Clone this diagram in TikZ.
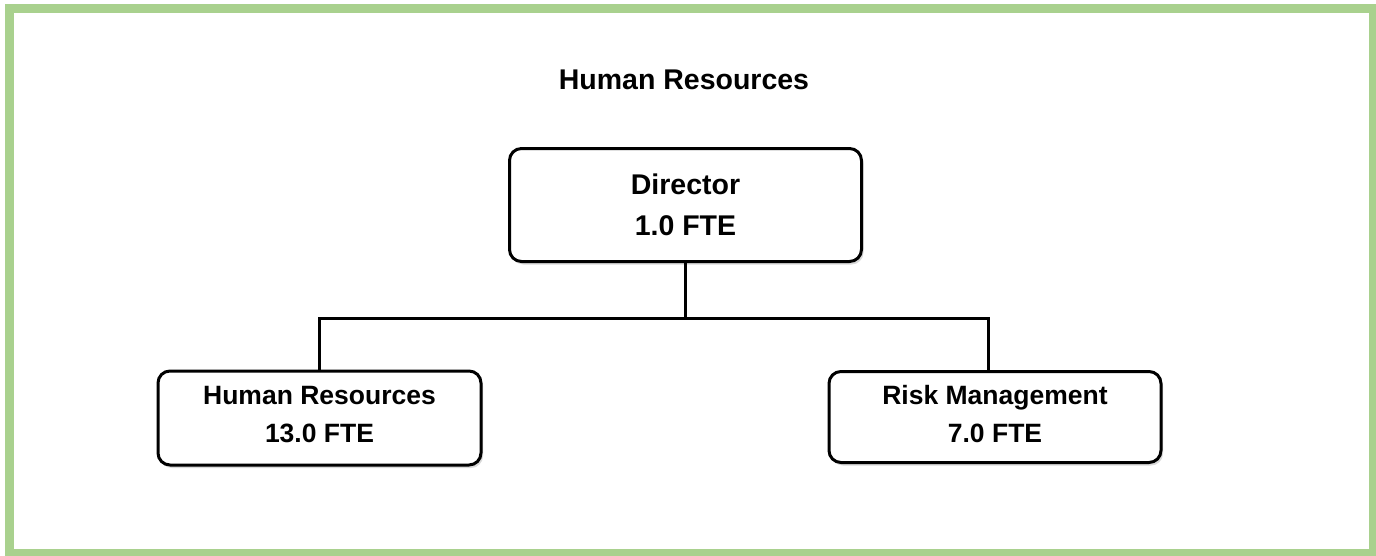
\documentclass[tikz,border=0pt]{standalone}
\usepackage{fontspec}
\setmainfont{Liberation Sans}
\usetikzlibrary{shadows}
\definecolor{framegreen}{HTML}{A9D18E}
\begin{document}
\begin{tikzpicture}[x=1pt,y=-1pt,
  orgbox/.style={draw=black, line width=3pt, rounded corners=12pt, fill=white,
    align=center, inner sep=0pt,
    drop shadow={opacity=0.3, shadow xshift=2pt, shadow yshift=-3pt, fill=gray}},
  conn/.style={draw=black, line width=3pt}]
\useasboundingbox (0,0) rectangle (1376,555);
\draw[framegreen, line width=9pt] (9.5,8.5) rectangle (1373,553);
\node[font=\fontsize{28.5}{34}\selectfont\bfseries] (title) at (684,80) {Human Resources};
\node[orgbox, minimum width=352pt, minimum height=113pt,
  font=\fontsize{28.5}{41}\selectfont\bfseries] (dir) at (685.5,205) {Director\\1.0 FTE};
\node[orgbox, minimum width=323pt, minimum height=94pt] (hr) at (319.5,418) {};
\node[align=center, font=\fontsize{26.5}{38}\selectfont\bfseries] (hrt) at (319.5,415) {Human Resources\\13.0 FTE};
\node[orgbox, minimum width=332pt, minimum height=91pt] (rm) at (995,417) {};
\node[align=center, font=\fontsize{26.5}{38}\selectfont\bfseries] (rmt) at (995,414) {Risk Management\\7.0 FTE};
\coordinate (j) at (685.5,318.5);
\draw[conn] (dir.south) -- (j);
\draw[conn] (hr.north) |- (j) -| (rm.north -| 988,0);
\end{tikzpicture}
\end{document}
